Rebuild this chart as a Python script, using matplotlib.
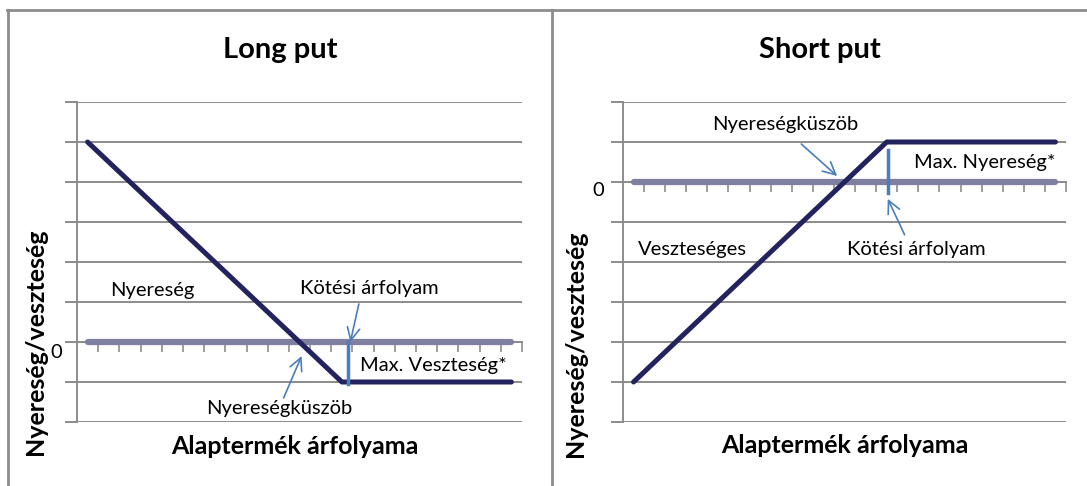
import numpy as np
import matplotlib.pyplot as plt
from matplotlib.lines import Line2D

plt.rcParams['font.family'] = ['Lato', 'DejaVu Sans']

# Adatok: 21 kategória az alaptermék árfolyamára, kötési árfolyam a 12. pontnál
arfolyam = list(range(21))
long_put = [5, 4.5, 4, 3.5, 3, 2.5, 2, 1.5, 1, 0.5, 0, -0.5, -1,
            -1, -1, -1, -1, -1, -1, -1, -1]
short_put = [-5, -4.5, -4, -3.5, -3, -2.5, -2, -1.5, -1, -0.5, 0, 0.5, 1,
             1, 1, 1, 1, 1, 1, 1, 1]
nulla = [0] * 21
kotesi = 12

W, H = 1087, 486
sotet = '#23235e'
szurke_lila = '#7f7f9f'
kek = '#4a7ebb'
racs = '#8c8c8c'

fig = plt.figure(figsize=(W / 100, H / 100), dpi=100)


def px_ax(x0, y0, x1, y1):
    return fig.add_axes([x0 / W, 1 - y1 / H, (x1 - x0) / W, (y1 - y0) / H])


def alap(ax, ymin, ymax):
    ax.set_xlim(-0.5, 20.5)
    ax.set_ylim(ymin, ymax)
    ax.set_yticks(range(ymin, ymax + 1))
    ax.set_yticklabels([])
    ax.set_xticks(np.arange(0.5, 21, 1))
    ax.set_xticklabels([])
    ax.grid(axis='y', color=racs, lw=1.4, zorder=0)
    for s in ['top', 'right']:
        ax.spines[s].set_visible(False)
    ax.spines['left'].set_color(racs)
    ax.spines['left'].set_linewidth(1.4)
    ax.spines['bottom'].set_position(('data', 0))
    ax.spines['bottom'].set_color(racs)
    ax.spines['bottom'].set_linewidth(1.4)
    ax.tick_params(axis='y', direction='out', length=9, width=1.4, color=racs)
    ax.tick_params(axis='x', direction='out', length=7, width=1.2, color=racs)
    ax.plot(arfolyam, nulla, color=szurke_lila, lw=4.5, solid_capstyle='round', zorder=3)


nyil = dict(arrowstyle='->,head_length=0.9,head_width=0.45', color=kek, lw=1.2,
            shrinkA=0, shrinkB=0)
fs = 14.5
cim = dict(fontsize=21, fontweight='bold', ha='center', va='center')
tengely = dict(fontsize=18, fontweight='bold')

# Long put
ax1 = px_ax(77, 102, 522, 422)
alap(ax1, -2, 6)
ax1.plot(arfolyam, long_put, color=sotet, lw=3.6, solid_capstyle='round', zorder=4)
ax1.plot([kotesi + 0.3, kotesi + 0.3], [0, -1.05], color=kek, lw=2.5, zorder=5)
ax1.text(-1.2, -0.27, '0', ha='right', va='center', fontsize=fs)
ax1.text(1.06, 1.3, 'Nyereség', ha='left', va='center', fontsize=fs)
ax1.text(13.3, 1.35, 'Kötési árfolyam', ha='center', va='center', fontsize=fs)
ax1.text(12.85, -0.575, 'Max. Veszteség*', ha='left', va='center', fontsize=fs)
ax1.text(9.03, -1.65, 'Nyereségküszöb', ha='center', va='center', fontsize=fs)
ax1.annotate('', xy=(12.4, 0.0), xytext=(12.8, 0.95), arrowprops=nyil)
ax1.annotate('', xy=(10.1, -0.35), xytext=(9.25, -1.4), arrowprops=nyil)
fig.text(280 / W, 1 - 50 / H, 'Long put', **cim)
ax1.set_xlabel('Alaptermék árfolyama', **tengely)
ax1.xaxis.set_label_coords(0.49, -0.042)
ax1.set_ylabel('Nyereség/veszteség', **tengely)
ax1.yaxis.set_label_coords(-0.068, 0.25)

# Short put
ax2 = px_ax(623, 102, 1066, 422)
alap(ax2, -6, 2)
ax2.plot(arfolyam, short_put, color=sotet, lw=3.6, solid_capstyle='round', zorder=4)
ax2.plot([kotesi + 0.05, kotesi + 0.05], [0.8, -0.28], color=kek, lw=2.5, zorder=5)
ax2.text(-1.4, -0.22, '0', ha='right', va='center', fontsize=fs)
ax2.text(7.18, 1.43, 'Nyereségküszöb', ha='center', va='center', fontsize=fs)
ax2.text(13.3, 0.48, 'Max. Nyereség*', ha='left', va='center', fontsize=fs)
ax2.text(13.4, -1.68, 'Kötési árfolyam', ha='center', va='center', fontsize=fs)
ax2.text(0.21, -1.68, 'Veszteséges', ha='left', va='center', fontsize=fs)
ax2.annotate('', xy=(9.65, 0.15), xytext=(7.95, 0.95), arrowprops=nyil)
ax2.annotate('', xy=(12.05, -0.42), xytext=(12.85, -1.32), arrowprops=nyil)
fig.text(820 / W, 1 - 50 / H, 'Short put', **cim)
ax2.set_xlabel('Alaptermék árfolyama', **tengely)
ax2.xaxis.set_label_coords(0.5, -0.036)
ax2.set_ylabel('Nyereség/veszteség', **tengely)
ax2.yaxis.set_label_coords(-0.081, 0.245)

# Panelkeretek
for xs, ys in [([7 / W, 1], [1 - 10 / H, 1 - 10 / H]),
               ([8 / W, 8 / W], [0, 1 - 10 / H]),
               ([552 / W, 552 / W], [0, 1 - 10 / H])]:
    fig.add_artist(Line2D(xs, ys, color=racs, lw=2))

fig.savefig('out.png', dpi=100)
